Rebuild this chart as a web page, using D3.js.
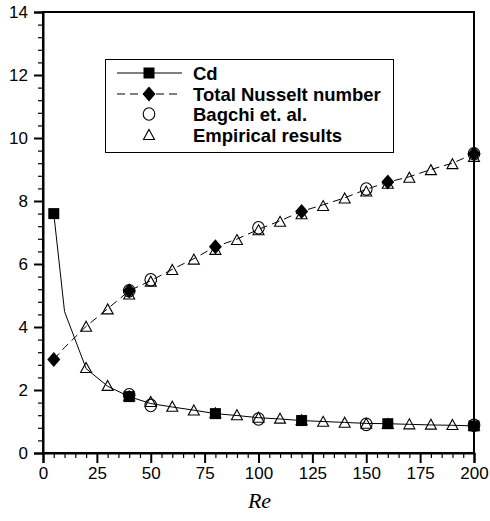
<!DOCTYPE html>
<html><head><meta charset="utf-8">
<script src="https://cdn.jsdelivr.net/npm/d3@7"></script>
<style>body{margin:0;background:#fff}svg{display:block}</style>
</head><body>
<script>
// ---- data ----
const reLine = [5,10,20,30,40,50,60,70,80,90,100,110,120,130,140,150,160,170,180,190,200];
const cdLine = [7.6,4.49,2.68,2.12,1.79,1.57,1.46,1.36,1.25,1.19,1.12,1.08,1.03,1.00,0.97,0.94,0.93,0.91,0.89,0.88,0.86];
const nuLine = [2.97,3.35,4.02,4.58,5.15,5.47,5.83,6.17,6.55,6.79,7.1,7.37,7.67,7.88,8.1,8.37,8.6,8.77,9.0,9.2,9.5];
const reEmp = [20,30,40,50,60,70,80,90,100,110,120,130,140,150,160,170,180,190,200];
const nuEmp = [4.01,4.56,5.03,5.44,5.81,6.14,6.45,6.76,7.07,7.34,7.58,7.84,8.08,8.3,8.55,8.74,8.98,9.17,9.4];
const cdEmp = [2.70,2.13,1.80,1.62,1.47,1.35,1.26,1.20,1.12,1.09,1.04,0.99,0.96,0.93,0.92,0.91,0.90,0.89,0.87];
const reBag = [40,50,100,150,200];
const nuBag = [5.15,5.5,7.15,8.38,9.5];
const cdBag = [1.85,1.51,1.08,0.91,0.88];
const xTicks = [0,25,50,75,100,125,150,175,200];
const yTicks = [0,2,4,6,8,10,12,14];
const legendLabels = ["Cd","Total Nusselt number","Bagchi et. al.","Empirical results"];
const markerSkip = 4;

const W = 490, H = 521;
const svg = d3.select("body").append("svg").attr("width", W).attr("height", H);
const x = d3.scaleLinear().domain([0,200]).range([43,474]);
const y = d3.scaleLinear().domain([0,14]).range([453,12]);
const font = "'Liberation Sans', Arial, Helvetica, sans-serif";

// frame
svg.append("rect").attr("x", x(0)).attr("y", y(14)).attr("width", x(200)-x(0)).attr("height", y(0)-y(14))
  .attr("fill","none").attr("stroke","#000").attr("stroke-width",2);

// minor ticks
const xMinor = d3.range(0,201,5).filter(v => v % 25 !== 0);
const yMinor = d3.range(0,14.01,0.4).map(v=>+v.toFixed(1)).filter(v => Math.abs(v/2 - Math.round(v/2))>1e-6);
const gxm = svg.append("g").attr("transform",`translate(0,${y(0)})`)
  .call(d3.axisBottom(x).tickValues(xMinor).tickSize(5).tickFormat(""));
const gym = svg.append("g").attr("transform",`translate(${x(0)},0)`)
  .call(d3.axisLeft(y).tickValues(yMinor).tickSize(5).tickFormat(""));
[gxm,gym].forEach(g=>{g.select(".domain").remove(); g.selectAll("line").attr("stroke-width",1.2);});

const gx = svg.append("g").attr("transform",`translate(0,${y(0)})`)
  .call(d3.axisBottom(x).tickValues(xTicks).tickSize(10).tickPadding(4).tickFormat(d3.format("d")));
const gy = svg.append("g").attr("transform",`translate(${x(0)},0)`)
  .call(d3.axisLeft(y).tickValues(yTicks).tickSize(9).tickPadding(6).tickFormat(d3.format("d")));
[gx,gy].forEach(g=>{
  g.select(".domain").attr("stroke-width",2);
  g.selectAll("line").attr("stroke-width",2);
  g.selectAll("text").attr("font-family",font).attr("font-size",17).attr("fill","#000");
});

// axis title
svg.append("text").attr("x",(x(0)+x(200))/2+1).attr("y",508).attr("text-anchor","middle")
  .attr("font-family","'Liberation Serif','Times New Roman',serif").attr("font-style","italic")
  .attr("font-size",22).text("Re");

// lines
const line = d3.line().x(d=>x(d[0])).y(d=>y(d[1]));
const cdPts = reLine.map((r,i)=>[r,cdLine[i]]);
const nuPts = reLine.map((r,i)=>[r,nuLine[i]]);
svg.append("path").attr("d",line(cdPts)).attr("fill","none").attr("stroke","#000").attr("stroke-width",1);
svg.append("path").attr("d",line(nuPts)).attr("fill","none").attr("stroke","#000").attr("stroke-width",1)
  .attr("stroke-dasharray","8,5");

// marker shapes
function square(g,cx,cy){ g.append("rect").attr("x",cx-5.5).attr("y",cy-5.5).attr("width",11).attr("height",11).attr("fill","#000"); }
function diamond(g,cx,cy){ g.append("path").attr("d",`M${cx},${cy-7.5}L${cx+6.5},${cy}L${cx},${cy+7.5}L${cx-6.5},${cy}Z`).attr("fill","#000"); }
function circle(g,cx,cy){ g.append("ellipse").attr("cx",cx).attr("cy",cy).attr("rx",5.8).attr("ry",6.3).attr("fill","none").attr("stroke","#000").attr("stroke-width",1.1); }
function tri(g,cx,cy){ g.append("path").attr("d",`M${cx},${cy-5.5}L${cx+5.5},${cy+4.5}L${cx-5.5},${cy+4.5}Z`).attr("fill","none").attr("stroke","#000").attr("stroke-width",1.1); }

const mk = svg.append("g");
cdPts.forEach((p,i)=>{ if(i % markerSkip === 0) square(mk,x(p[0]),y(p[1])); });
nuPts.forEach((p,i)=>{ if(i % markerSkip === 0) diamond(mk,x(p[0]),y(p[1])); });
reBag.forEach((r,i)=>{ circle(mk,x(r),y(nuBag[i])); circle(mk,x(r),y(cdBag[i])); });
reEmp.forEach((r,i)=>{ tri(mk,x(r),y(nuEmp[i])); tri(mk,x(r),y(cdEmp[i])); });

// legend
const lg = svg.append("g");
lg.append("rect").attr("x",105.5).attr("y",59.5).attr("width",288).attr("height",93)
  .attr("fill","#fff").attr("stroke","#000").attr("stroke-width",1);
const rowsY = [73,94,114,135];
const lx0 = 117, lx1 = 182, lmx = 149, ltx = 193;
lg.append("line").attr("x1",lx0).attr("x2",lx1).attr("y1",rowsY[0]).attr("y2",rowsY[0]).attr("stroke","#000");
square(lg,lmx,rowsY[0]);
lg.append("line").attr("x1",lx0).attr("x2",lx1).attr("y1",rowsY[1]).attr("y2",rowsY[1]).attr("stroke","#000").attr("stroke-dasharray","8,5");
diamond(lg,lmx,rowsY[1]);
circle(lg,lmx,rowsY[2]);
tri(lg,lmx,rowsY[3]);
legendLabels.forEach((t,i)=>{
  lg.append("text").attr("x",ltx).attr("y",rowsY[i]).attr("dy","0.36em")
    .attr("font-family",font).attr("font-weight","bold").attr("font-size",18.5).text(t);
});
</script>
</body></html>
